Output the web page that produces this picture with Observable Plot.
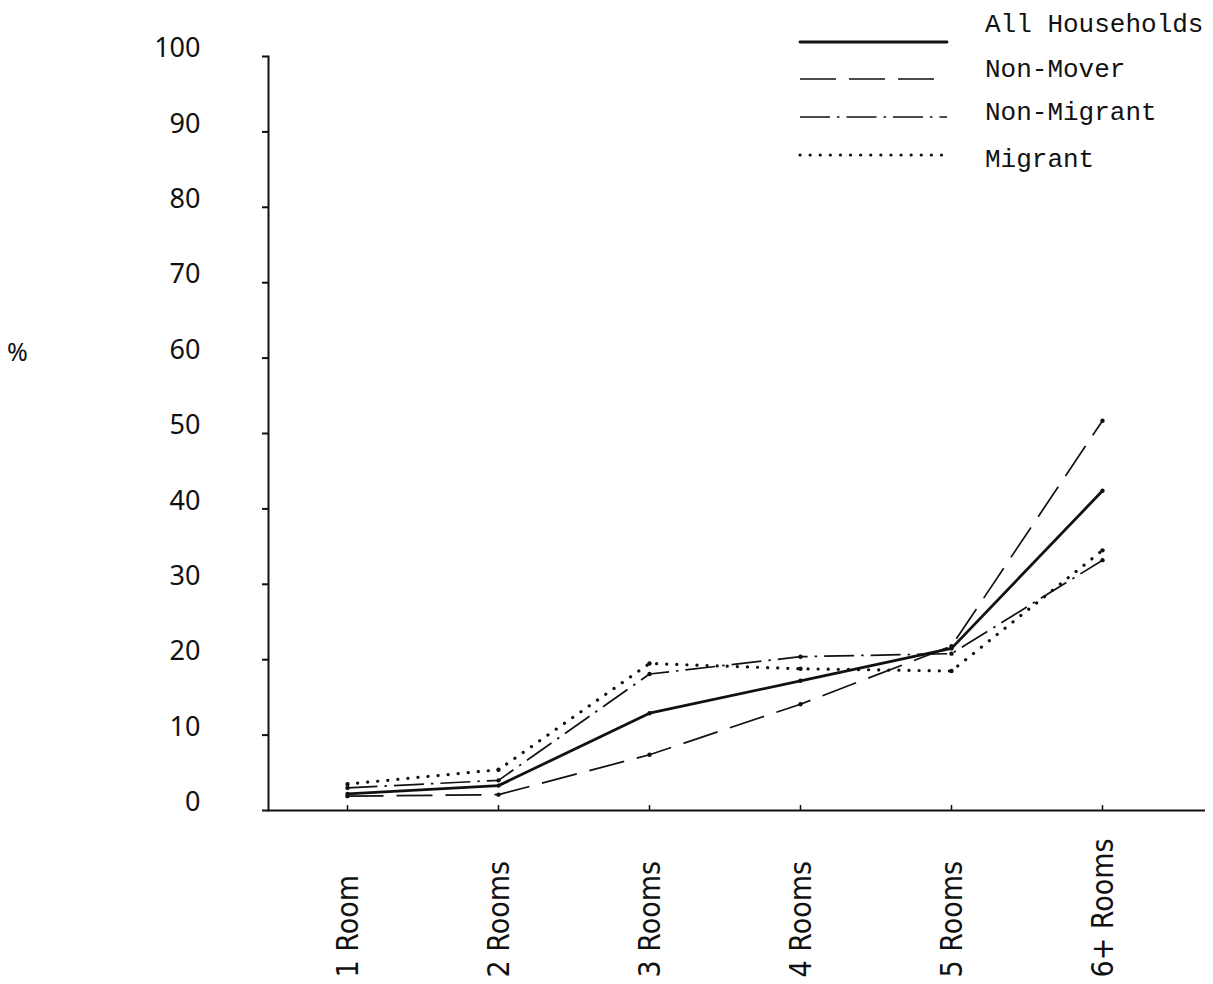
<!DOCTYPE html>
<html><head><meta charset="utf-8">
<script src="https://cdn.jsdelivr.net/npm/d3@7"></script>
<script src="https://cdn.jsdelivr.net/npm/@observablehq/plot@0.6"></script>
<style>
body{margin:0;background:#fff}
#wrap{position:relative;width:1213px;height:984px}
#legend{position:absolute;left:0;top:0;pointer-events:none}
#pct{position:absolute;left:7px;top:334px;font:25px "Noto Sans",sans-serif;color:#111}
</style>
</head><body><div id="wrap"></div>
<script>
// ---- data ----
const categories = ["1 Room", "2 Rooms", "3 Rooms", "4 Rooms", "5 Rooms", "6+ Rooms"];
const seriesNames = ["All Households", "Non-Mover", "Non-Migrant", "Migrant"];
const allHouseholds = [2.2, 3.3, 12.9, 17.2, 21.5, 42.4];
const nonMover      = [1.9, 2.1, 7.4, 14.1, 21.8, 51.7];
const nonMigrant    = [3.0, 4.0, 18.1, 20.4, 20.8, 33.2];
const migrant       = [3.5, 5.4, 19.5, 18.8, 18.5, 34.5];
const yTicks = [0, 10, 20, 30, 40, 50, 60, 70, 80, 90, 100];

const seriesValues = [allHouseholds, nonMover, nonMigrant, migrant];
const rows = seriesNames.flatMap((s, i) => categories.map((c, j) => ({series: s, cat: c, value: seriesValues[i][j]})));

// ---- styles ----
const ink = "#111";
const styles = {
  "All Households": {strokeWidth: 2.8, strokeDasharray: null, strokeLinecap: "round"},
  "Non-Mover":      {strokeWidth: 1.7, strokeDasharray: "36,13", strokeLinecap: "butt"},
  "Non-Migrant":    {strokeWidth: 1.7, strokeDasharray: "30,7,2.5,7", strokeLinecap: "butt"},
  "Migrant":        {strokeWidth: 3.2, strokeDasharray: "0.1,10", strokeLinecap: "round"}
};
const sansY = "'Noto Sans', 'Open Sans', sans-serif";
const sansX = "'Liberation Sans Narrow', 'DejaVu Sans Condensed', 'Noto Sans', sans-serif";

const lineMarks = seriesNames.map(s => Plot.line(rows.filter(r => r.series === s), {
  x: "cat", y: "value", stroke: ink, ...styles[s], strokeLinejoin: "round"
}));

const chart = Plot.plot({
  width: 1213,
  height: 984,
  marginLeft: 268,
  marginRight: 8,
  marginTop: 56,
  marginBottom: 174,
  style: {background: "#fff", color: ink},
  x: {type: "point", domain: categories, range: [346, 1103], padding: 0},
  y: {domain: [0, 100]},
  marks: [
    Plot.frame({anchor: "left", stroke: ink, strokeWidth: 2}),
    Plot.ruleY([0], {stroke: ink, strokeWidth: 2}),
    Plot.axisY({ticks: yTicks, tickSize: 6, tickFormat: () => "", label: null, strokeWidth: 2}),
    Plot.axisY({ticks: yTicks, tickSize: 0, tickPadding: 68, dy: -8, fontSize: 27, fontFamily: sansY, label: null}),
    Plot.axisX({tickSize: 5, dy: -5, tickFormat: () => "", label: null, strokeWidth: 1.5}),
    Plot.text(categories, {x: d => d, frameAnchor: "bottom", rotate: -90, textAnchor: "start", dy: 167, dx: 10, fontSize: 30, fontFamily: sansX, fill: ink}),
    ...lineMarks,
    Plot.dot(rows, {x: "cat", y: "value", r: 2.2, fill: ink, stroke: null})
  ]
});
const wrap = document.getElementById("wrap");
wrap.appendChild(chart);

// "%" axis label
const pct = document.createElement("div");
pct.id = "pct";
pct.textContent = "%";
wrap.appendChild(pct);

// ---- legend overlay ----
const lineY = [42, 79, 117, 155];
const textY = [25, 70, 113, 160];
const leg = d3.select(wrap).append("svg").attr("id", "legend").attr("width", 1213).attr("height", 200);
seriesNames.forEach((s, i) => {
  const st = styles[s];
  leg.append("line").attr("x1", 800).attr("x2", 947).attr("y1", lineY[i]).attr("y2", lineY[i])
    .attr("stroke", ink).attr("stroke-width", st.strokeWidth)
    .attr("stroke-dasharray", st.strokeDasharray).attr("stroke-linecap", st.strokeLinecap);
  leg.append("text").attr("x", 985).attr("y", textY[i]).attr("dominant-baseline", "middle")
    .attr("font-family", "'Liberation Mono', 'DejaVu Sans Mono', monospace").attr("font-size", 26)
    .attr("fill", ink).text(s);
});
</script>
</body></html>
